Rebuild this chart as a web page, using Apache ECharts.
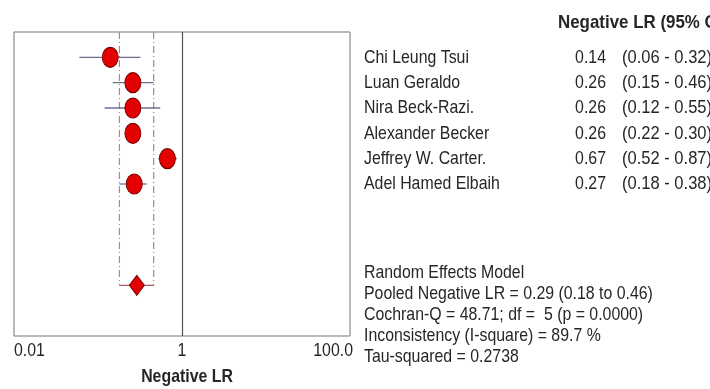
<!DOCTYPE html>
<html><head><meta charset="utf-8">
<script src="https://cdn.jsdelivr.net/npm/echarts@6/dist/echarts.min.js"></script>
<style>html,body{margin:0;padding:0;background:#fff}#c{width:710px;height:389px}</style>
</head><body><div id="c"></div>
<script>
// Study-level negative likelihood ratios with 95% confidence limits
const studies = ['Chi Leung Tsui', 'Luan Geraldo', 'Nira Beck-Razi.', 'Alexander Becker', 'Jeffrey W. Carter.', 'Adel Hamed Elbaih'];
const lrValues = [0.14, 0.26, 0.26, 0.26, 0.67, 0.27];
const ciLower = [0.06, 0.15, 0.12, 0.22, 0.52, 0.18];
const ciUpper = [0.32, 0.46, 0.55, 0.30, 0.87, 0.38];

// Random-effects pooled estimate
const pooledLR = [0.29];
const pooledLower = [0.18];
const pooledUpper = [0.46];
const pooledRow = 9;

// Axis tick values and their printed labels
const tickValues = [0.01, 1, 100];
const tickLabels = ['0.01', '1', '100.0'];

const headerText = 'Negative LR (95% CI)';
const summaryLines = [
  'Random Effects Model',
  'Pooled Negative LR = 0.29 (0.18 to 0.46)',
  'Cochran-Q = 48.71; df =  5 (p = 0.0000)',
  'Inconsistency (I-square) = 89.7 %',
  'Tau-squared = 0.2738'
];

const FONT = "'Liberation Sans', Arial, sans-serif";
const FS = 19;            // text size; glyphs are condensed horizontally below
const NARROW = 0.835;
const TXT = '#262626';

const chart = echarts.init(document.getElementById('c'), null, {renderer: 'canvas'});

const rows = studies.map((s, i) => i);

chart.setOption({
  animation: false,
  backgroundColor: '#fff',
  grid: {left: 14, right: 360, top: 32, bottom: 53, show: true, borderColor: '#777', borderWidth: 1, backgroundColor: 'transparent'},
  xAxis: {type: 'log', logBase: 10, min: 0.01, max: 100,
    axisLine: {show: false}, axisTick: {show: false}, axisLabel: {show: false}, splitLine: {show: false}},
  yAxis: {type: 'value', min: -1, max: 11, inverse: true, show: false,
    axisLine: {show: false}, splitLine: {show: false}},
  series: [
    {
      // pooled confidence band: dashed verticals and the bracket at the pooled row
      type: 'custom',
      silent: true,
      data: pooledLR.map((v, k) => [pooledLower[k], pooledUpper[k], pooledRow]),
      renderItem: function (params, api) {
        const lo = api.value(0), hi = api.value(1), r = api.value(2);
        const topL = api.coord([lo, -1]), botL = api.coord([lo, r]);
        const topR = api.coord([hi, -1]), botR = api.coord([hi, r]);
        const st = {stroke: '#bb8080', lineWidth: 1.2, lineDash: [7, 3, 1, 3]};
        return {type: 'group', children: [
          {type: 'line', shape: {x1: topL[0], y1: topL[1], x2: botL[0], y2: botL[1]}, style: st},
          {type: 'line', shape: {x1: topR[0], y1: topR[1], x2: botR[0], y2: botR[1]}, style: st},
          {type: 'line', shape: {x1: botL[0], y1: botL[1], x2: botR[0], y2: botR[1]}, style: {stroke: '#a06060', lineWidth: 1.3}}
        ]};
      },
      z: 1
    },
    {
      // study confidence intervals
      type: 'custom',
      silent: true,
      data: rows.map(i => [ciLower[i], ciUpper[i], i]),
      renderItem: function (params, api) {
        const a = api.coord([api.value(0), api.value(2)]);
        const b = api.coord([api.value(1), api.value(2)]);
        return {type: 'line', shape: {x1: a[0], y1: a[1], x2: b[0], y2: b[1]},
          style: {stroke: '#6e6e90', lineWidth: 1.3}};
      },
      z: 2
    },
    {
      type: 'scatter',
      data: rows.map(i => [lrValues[i], i]),
      symbol: 'circle',
      symbolSize: [16, 20],
      itemStyle: {color: '#e30000', borderColor: '#7a0000', borderWidth: 1, opacity: 1},
      markLine: {
        silent: true, symbol: 'none', label: {show: false},
        lineStyle: {color: '#555', type: 'solid', width: 1.2},
        data: [{xAxis: 1}]
      },
      z: 3
    },
    {
      type: 'scatter',
      data: pooledLR.map(v => [v, pooledRow]),
      symbol: 'diamond',
      symbolSize: [15, 20],
      itemStyle: {color: '#e30000', borderColor: '#7a0000', borderWidth: 1, opacity: 1},
      z: 4
    }
  ]
});

// Text panels positioned from the grid's coordinate system
const px = v => chart.convertToPixel({gridIndex: 0}, v);
const graphics = [];
const txt = (x, y, text, opts, sx) => graphics.push({type: 'text', x: x, y: y, scaleX: sx || NARROW, silent: true,
  style: Object.assign({text: text, fill: TXT, font: FS + 'px ' + FONT, textVerticalAlign: 'middle', textAlign: 'left'}, opts || {})});

const rightCol = 364, valRight = 606, ciLeft = 622;
txt(558, 23, headerText, {font: 'bold ' + FS + 'px ' + FONT}, 0.89);
rows.forEach(i => {
  const y = px([1, i])[1];
  txt(rightCol, y, studies[i]);
  txt(valRight, y, lrValues[i].toFixed(2), {textAlign: 'right'});
  txt(ciLeft, y, '(' + ciLower[i].toFixed(2) + ' - ' + ciUpper[i].toFixed(2) + ')', null, 0.87);
});
summaryLines.forEach((s, k) => txt(rightCol, 273 + k * 21, s));

const axisBottom = px([1, 11])[1];
tickValues.forEach((v, k) => {
  const x = px([v, 0])[0];
  const last = k === tickValues.length - 1;
  const align = k === 0 ? 'left' : (last ? 'right' : 'center');
  txt(x + (last ? 3 : 0), axisBottom + 15, tickLabels[k], {textAlign: align});
});
const midX = (px([0.01, 0])[0] + px([100, 0])[0]) / 2;
txt(midX + 5, axisBottom + 41, 'Negative LR', {font: 'bold ' + FS + 'px ' + FONT, textAlign: 'center'});

chart.setOption({graphic: graphics});
</script>
</body></html>
